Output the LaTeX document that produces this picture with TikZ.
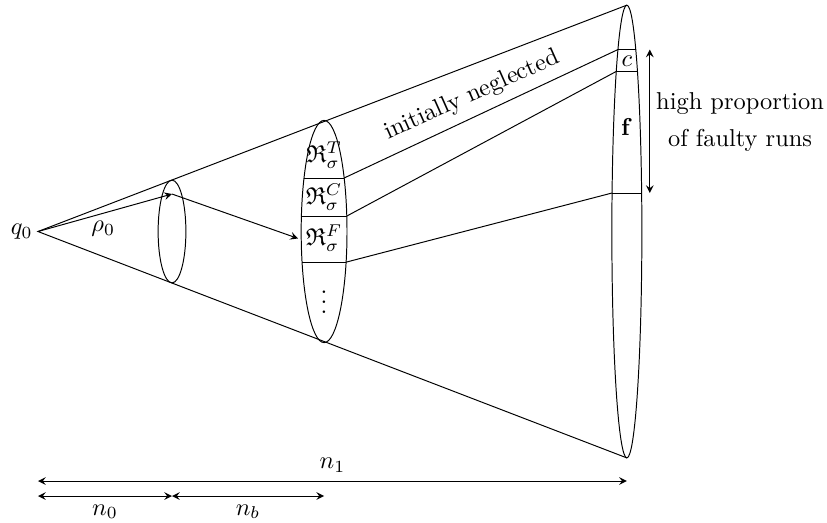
\documentclass[tikz,border=0pt]{standalone}
\usepackage{amsmath,amssymb}
\usetikzlibrary{calc}
\tikzset{cell/.style={inner sep=1pt},dim/.style={<->}}

\begin{document}
\begin{tikzpicture}[>=stealth]
	\useasboundingbox (-0.547,-4.183) rectangle (11.362,3.334);
	\def\sa{0.2}\def\sb{0.74}
	\def\ma{0.33}\def\mb{1.6}
	\def\fa{0.216}\def\fb{3.26}
	\path (0,0) coordinate (Q)
	       (1.93,0) coordinate (S)
	       (4.12,0) coordinate (M)
	       (8.48,0) coordinate (F)
	       (1.93,0.54) coordinate (r0)
	       (8.81,0) coordinate (hx)
	       (0,-3.593) coordinate (b0)
	       (0,-3.809) coordinate (b1);
	\path (M) +(151.2:\ma cm and \mb cm) coordinate (m1l) +(28.8:\ma cm and \mb cm) coordinate (m1r)
	          +(172:\ma cm and \mb cm) coordinate (m2l) +(8:\ma cm and \mb cm) coordinate (m2r)
	          +(196:\ma cm and \mb cm) coordinate (m3l) +(-16:\ma cm and \mb cm) coordinate (m3r);
	\path (F) +(90:\fa cm and \fb cm) coordinate (Ftop) +(-90:\fa cm and \fb cm) coordinate (Fbot)
	          +(126.5:\fa cm and \fb cm) coordinate (f1l) +(53.5:\fa cm and \fb cm) coordinate (f1r)
	          +(135:\fa cm and \fb cm) coordinate (f2l) +(45:\fa cm and \fb cm) coordinate (f2r)
	          +(170.2:\fa cm and \fb cm) coordinate (f3l) +(9.8:\fa cm and \fb cm) coordinate (f3r);
	    \draw (Ftop)--(Q)--(Fbot);
	    \draw (S) ellipse [x radius=\sa, y radius=\sb];
	    \draw (M) ellipse [x radius=\ma, y radius=\mb];
	    \draw (F) ellipse [x radius=\fa, y radius=\fb];
	    \draw (m1l)--(m1r) (m2l)--(m2r) (m3l)--(m3r);
	    \draw (f1l)--(f1r) (f2l)--(f2r) (f3l)--(f3r);
	    \draw (m1r)--(f1l) (m2r)--(f2l) (m3r)--(f3l);
	\node[left,inner sep=2pt] (q0) at (Q) {$q_0$};
	\node (rho) at (0.94,0.04) {$\rho_0$};
	\node[cell] (rT) at ($(M)+(0,1.1)$) {$\mathfrak{R}^T_\sigma$};
	\node[cell] (rC) at ($(M)+(0,0.5)$) {$\mathfrak{R}^C_\sigma$};
	\node[cell,inner sep=3pt] (rF) at ($(M)+(0,-0.1)$) {$\mathfrak{R}^F_\sigma$};
	\node (dots) at ($(M)+(0,-0.91)$) {$\vdots$};
	\node (c) at ($(F)+(0,2.455)$) {$c$};
	\node (f) at ($(F)+(0,1.505)$) {$\mathbf{f}$};
	\node[rotate=24] (neg) at (6.25,1.96) {initially neglected};
	\node[align=center] (hp) at (10.11,1.58) {high proportion\\[3pt]of faulty runs};
	    \draw[->] (Q)--(r0);
	    \draw[->] (r0)--(rF.west);
	    \draw[dim] (hx |- f1r)--(hx |- f3r);
	    \draw[dim] (b0)-- node[above] (n1) {$n_1$} (F |- b0);
	    \draw[dim] (b1)-- node[below] (n0) {$n_0$} (S |- b1);
	    \draw[dim] (S |- b1)-- node[below] (nb) {$n_b$} (M |- b1);
\end{tikzpicture}
\end{document}
